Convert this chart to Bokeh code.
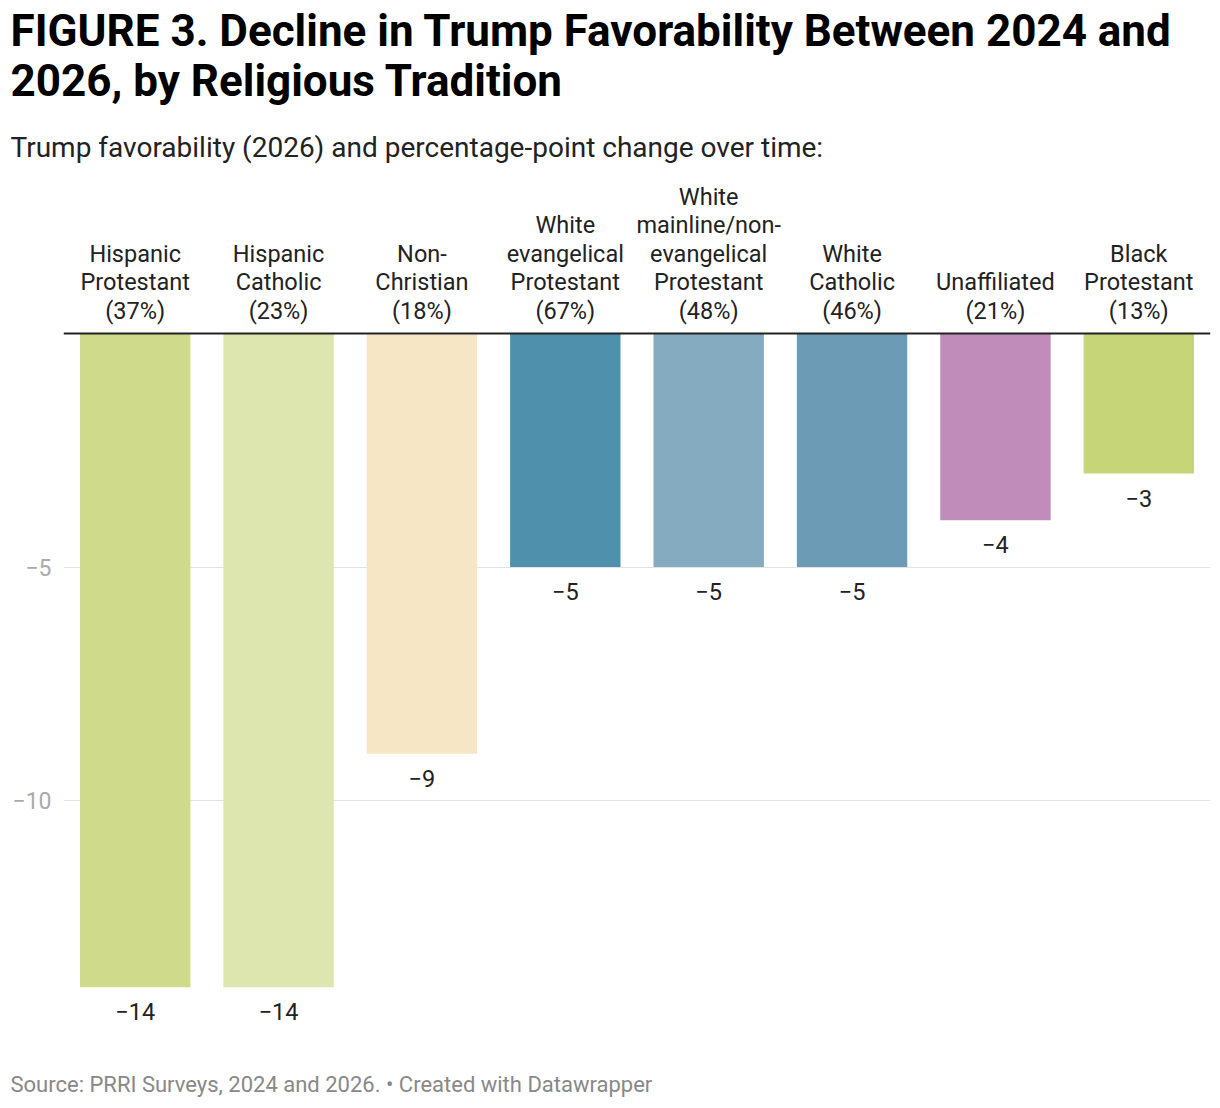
from bokeh.plotting import figure
from bokeh.models import (ColumnDataSource, FixedTicker, CustomJSTickFormatter, Span, Title)
from bokeh.core.properties import value
from bokeh.embed import file_html
from bokeh.resources import INLINE

# ---- data ----
categories = ["Hispanic Protestant", "Hispanic Catholic", "Non-Christian",
              "White evangelical Protestant", "White mainline/non-evangelical Protestant",
              "White Catholic", "Unaffiliated", "Black Protestant"]
label_lines = ["Hispanic\nProtestant", "Hispanic\nCatholic", "Non-\nChristian",
               "White\nevangelical\nProtestant", "White\nmainline/non-\nevangelical\nProtestant",
               "White\nCatholic", "Unaffiliated", "Black\nProtestant"]
favorability_2026 = [37, 23, 18, 67, 48, 46, 21, 13]
change = [-14, -14, -9, -5, -5, -5, -4, -3]
colors = ["#cfdb8b", "#dde6ae", "#f7e6c6", "#4f90ad", "#84abc0", "#6b9bb5", "#c08cb9", "#c5d578"]
y_ticks = [-10, -5]

title_text = "FIGURE 3. Decline in Trump Favorability Between 2024 and\n2026, by Religious Tradition"
subtitle = "Trump favorability (2026) and percentage-point change over time:"
source_note = "Source: PRRI Surveys, 2024 and 2026. \u2022 Created with Datawrapper"

FONT = "Roboto"
FRAME_H = 882
PX_PER_UNIT = 46.7
Y_BOTTOM = -15.567
Y_TOP = Y_BOTTOM + FRAME_H / PX_PER_UNIT

cat_text = [f"{n}\n({f}%)" for n, f in zip(label_lines, favorability_2026)]
val_text = [("\u2212" if v < 0 else "") + str(abs(v)) for v in change]

src = ColumnDataSource(dict(cat=categories, val=change, color=colors,
                            cat_text=cat_text, val_text=val_text,
                            zero=[0] * len(categories)))

p = figure(x_range=categories, y_range=(Y_BOTTOM, Y_TOP), frame_width=1147, frame_height=FRAME_H,
           output_backend="svg", toolbar_location=None,
           min_border_left=63, min_border_right=2, min_border_top=0, min_border_bottom=0)
p.title.text = ""
p.outline_line_color = None
p.x_range.range_padding = 0

p.vbar(x="cat", top="val", bottom=0, width=0.77, color="color", line_color=None, source=src)

p.add_layout(Span(location=0, dimension="width", line_color="#222222", line_width=2))

p.text(x="cat", y="zero", text="cat_text", source=src, text_align="center",
       text_baseline="bottom", y_offset=-9, text_font=value(FONT),
       text_font_size="23.5px", text_color="#222222", text_line_height=1.018)

p.text(x="cat", y="val", text="val_text", source=src, text_align="center",
       text_baseline="top", y_offset=16, text_font=value(FONT),
       text_font_size="23.5px", text_color="#222222")

p.xaxis.visible = False
p.xgrid.visible = False
p.yaxis.ticker = FixedTicker(ticks=y_ticks)
p.yaxis.formatter = CustomJSTickFormatter(code="return (tick < 0 ? '\u2212' : '') + Math.abs(tick);")
p.yaxis.axis_line_color = None
p.yaxis.major_tick_line_color = None
p.yaxis.minor_tick_line_color = None
p.yaxis.major_tick_out = 0
p.yaxis.major_tick_in = 0
p.yaxis.major_label_standoff = 12
p.yaxis.major_label_text_font = FONT
p.yaxis.major_label_text_font_size = "23px"
p.yaxis.major_label_text_color = "#aaaaaa"
p.ygrid.ticker = FixedTicker(ticks=y_ticks)
p.ygrid.grid_line_color = "#e3e3e3"
p.ygrid.grid_line_width = 1

p.add_layout(Title(text=subtitle, align="left", offset=-53, text_font=FONT,
                   text_font_size="28px", text_font_style="normal", text_color="#222222",
                   vertical_align="bottom", standoff=30), "above")
p.add_layout(Title(text=title_text, align="left", offset=-53, text_font=FONT,
                   text_font_size="44px", text_font_style="bold", text_color="#000000",
                   text_line_height=0.973, vertical_align="top", standoff=8), "above")
p.add_layout(Title(text=source_note, align="left", offset=-53, text_font=FONT,
                   text_font_size="22px", text_font_style="normal", text_color="#888888",
                   standoff=18), "below")

open("out.html", "w").write(file_html(p, INLINE))
